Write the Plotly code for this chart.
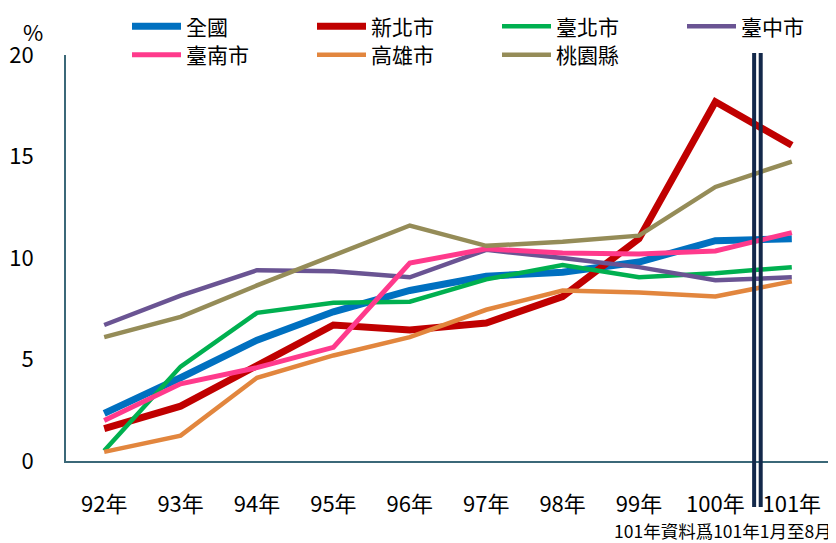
import plotly.graph_objects as go

years = ["92年", "93年", "94年", "95年", "96年", "97年", "98年", "99年", "100年", "101年"]

national = [2.35, 4.1, 5.95, 7.35, 8.4, 9.1, 9.3, 9.8, 10.85, 10.95]
new_taipei = [1.6, 2.7, 4.7, 6.7, 6.45, 6.8, 8.1, 10.95, 17.7, 15.55]
taipei = [0.5, 4.65, 7.3, 7.8, 7.85, 8.95, 9.65, 9.05, 9.25, 9.55]
taichung = [6.7, 8.15, 9.4, 9.35, 9.05, 10.4, 10.0, 9.55, 8.9, 9.05]
tainan = [2.0, 3.8, 4.6, 5.6, 9.75, 10.45, 10.25, 10.2, 10.35, 11.25]
kaohsiung = [0.45, 1.25, 4.1, 5.2, 6.1, 7.45, 8.4, 8.3, 8.1, 8.85]
taoyuan = [6.1, 7.1, 8.65, 10.15, 11.6, 10.6, 10.8, 11.1, 13.5, 14.75]

series_names = ["全國", "新北市", "臺北市", "臺中市", "臺南市", "高雄市", "桃園縣"]
series_values = [national, new_taipei, taipei, taichung, tainan, kaohsiung, taoyuan]
colors = ["#0070C0", "#C00000", "#00B050", "#6A5493", "#FF3A8C", "#E2863E", "#958C58"]
widths = [7, 7, 4.5, 4.5, 5, 4.5, 4.5]

FONT = "Noto Sans CJK TC"

fig = go.Figure()
for i, (name, vals) in enumerate(zip(series_names, series_values)):
    fig.add_trace(go.Scatter(
        x=years, y=vals, name=name, mode="lines",
        line=dict(color=colors[i], width=widths[i]),
        legend="legend" if i < 4 else "legend2",
    ))

legend_common = dict(
    orientation="h", xref="container", yref="container",
    xanchor="left", yanchor="middle",
    font=dict(family=FONT, size=21, color="#000000"),
    itemwidth=49, entrywidth=121, entrywidthmode="pixels",
    bgcolor="rgba(0,0,0,0)", tracegroupgap=0,
    itemclick=False, itemdoubleclick=False,
)

fig.update_layout(
    width=836, height=543,
    margin=dict(l=58, r=14, t=47, b=90, autoexpand=False),
    paper_bgcolor="white", plot_bgcolor="white",
    font=dict(family=FONT, color="#000000"),
    legend=dict(x=119 / 836, y=1 - 18.7 / 543, **legend_common),
    legend2=dict(x=119 / 836, y=1 - 47 / 543, **legend_common),
    xaxis=dict(
        type="category", range=[-0.5, 9.5],
        showline=True, linecolor="#3B6878", linewidth=2,
        showgrid=False, zeroline=False, ticks="",
        tickfont=dict(family=FONT, size=22, color="#000000"),
        ticklabelstandoff=23,
    ),
    yaxis=dict(
        range=[0, 20], tickvals=[0, 5, 10, 15, 20],
        showline=True, linecolor="#3B6878", linewidth=2,
        showgrid=False, zeroline=False, ticks="",
        tickfont=dict(family=FONT, size=22, color="#000000"),
        ticklabelstandoff=26,
    ),
    annotations=[
        dict(text="%", xref="paper", yref="paper", x=-0.0432, y=1.058,
             showarrow=False, xanchor="center", yanchor="middle",
             font=dict(family=FONT, size=22, color="#000000")),
        dict(text="101年資料爲101年1月至8月", xref="paper", yref="paper",
             x=1.005, y=-0.1724, showarrow=False, xanchor="right", yanchor="middle",
             font=dict(family=FONT, size=17.5, color="#000000")),
    ],
    shapes=[
        dict(type="line", xref="x", yref="paper", x0=8.507, x1=8.507, y0=1.005, y1=-0.113,
             line=dict(color="#13284A", width=4)),
        dict(type="line", xref="x", yref="paper", x0=8.593, x1=8.593, y0=1.005, y1=-0.113,
             line=dict(color="#13284A", width=4)),
    ],
)

fig.write_html("out.html")
